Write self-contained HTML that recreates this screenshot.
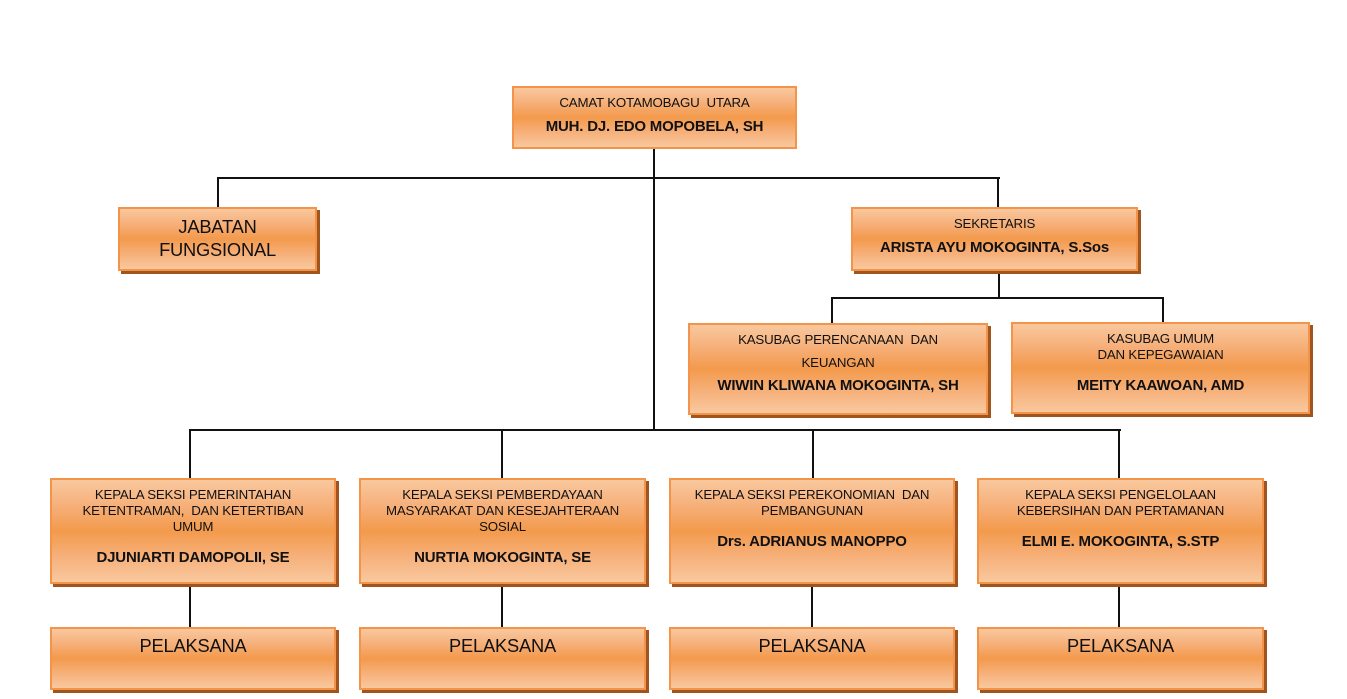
<!DOCTYPE html>
<html><head><meta charset="utf-8"><style>
body{margin:0;width:1347px;height:699px;background:#fff;position:relative;overflow:hidden;font-family:"Liberation Sans",Arial,sans-serif;color:#111}
.b{position:absolute;box-sizing:border-box;border:2px solid #f4934a;background:linear-gradient(to bottom,#f9c89e 0%,#f6b07a 25%,#f39a4c 50%,#f6b07a 75%,#f9c89e 100%);box-shadow:3px 3px 0 #a0541e}
.n{box-shadow:none}
.t{position:absolute;left:0;right:0;text-align:center;white-space:nowrap;font-size:13.3px;letter-spacing:-0.2px}
.k{font-weight:bold;font-size:15px}
.g{font-size:18.3px}
.h{position:absolute;background:#111;height:2px}
.v{position:absolute;background:#111;width:2px}
</style></head><body>
<div class="v" style="left:653px;top:148px;height:283px"></div>
<div class="h" style="left:217px;top:177px;width:783px"></div>
<div class="v" style="left:217px;top:177px;height:31px"></div>
<div class="v" style="left:997px;top:177px;height:31px"></div>
<div class="v" style="left:998px;top:271px;height:28px"></div>
<div class="h" style="left:831px;top:297px;width:333px"></div>
<div class="v" style="left:831px;top:297px;height:27px"></div>
<div class="v" style="left:1162px;top:297px;height:27px"></div>
<div class="h" style="left:189px;top:429px;width:932px"></div>
<div class="v" style="left:189px;top:429px;height:50px"></div>
<div class="v" style="left:501px;top:429px;height:50px"></div>
<div class="v" style="left:812px;top:429px;height:50px"></div>
<div class="v" style="left:1118px;top:429px;height:50px"></div>
<div class="v" style="left:189px;top:584px;height:44px"></div>
<div class="v" style="left:501px;top:584px;height:44px"></div>
<div class="v" style="left:811px;top:584px;height:44px"></div>
<div class="v" style="left:1118px;top:584px;height:44px"></div>

<div class="b n" style="left:512px;top:86px;width:285px;height:63px">
<div class="t" style="top:7px">CAMAT KOTAMOBAGU&nbsp; UTARA</div>
<div class="t k" style="top:30px">MUH. DJ. EDO MOPOBELA, SH</div></div>

<div class="b" style="left:118px;top:207px;width:199px;height:64px">
<div class="t g" style="top:7px">JABATAN</div>
<div class="t g" style="top:30px">FUNGSIONAL</div></div>

<div class="b" style="left:851px;top:207px;width:287px;height:64px">
<div class="t" style="top:7px">SEKRETARIS</div>
<div class="t k" style="top:30px">ARISTA AYU MOKOGINTA, S.Sos</div></div>

<div class="b" style="left:688px;top:323px;width:300px;height:92px">
<div class="t" style="top:7px">KASUBAG PERENCANAAN&nbsp; DAN</div>
<div class="t" style="top:30px">KEUANGAN</div>
<div class="t k" style="top:52px">WIWIN KLIWANA MOKOGINTA, SH</div></div>

<div class="b" style="left:1011px;top:322px;width:299px;height:92px">
<div class="t" style="top:7px">KASUBAG UMUM</div>
<div class="t" style="top:23px">DAN KEPEGAWAIAN</div>
<div class="t k" style="top:53px">MEITY KAAWOAN, AMD</div></div>

<div class="b" style="left:50px;top:478px;width:286px;height:106px">
<div class="t" style="top:7px">KEPALA SEKSI PEMERINTAHAN</div>
<div class="t" style="top:23px">KETENTRAMAN,&nbsp; DAN KETERTIBAN</div>
<div class="t" style="top:39px">UMUM</div>
<div class="t k" style="top:69px">DJUNIARTI DAMOPOLII, SE</div></div>

<div class="b" style="left:359px;top:478px;width:287px;height:106px">
<div class="t" style="top:7px">KEPALA SEKSI PEMBERDAYAAN</div>
<div class="t" style="top:23px">MASYARAKAT DAN KESEJAHTERAAN</div>
<div class="t" style="top:39px">SOSIAL</div>
<div class="t k" style="top:69px">NURTIA MOKOGINTA, SE</div></div>

<div class="b" style="left:669px;top:478px;width:286px;height:106px">
<div class="t" style="top:7px">KEPALA SEKSI PEREKONOMIAN&nbsp; DAN</div>
<div class="t" style="top:23px">PEMBANGUNAN</div>
<div class="t k" style="top:53px">Drs. ADRIANUS MANOPPO</div></div>

<div class="b" style="left:977px;top:478px;width:287px;height:106px">
<div class="t" style="top:7px">KEPALA SEKSI PENGELOLAAN</div>
<div class="t" style="top:23px">KEBERSIHAN DAN PERTAMANAN</div>
<div class="t k" style="top:53px">ELMI E. MOKOGINTA, S.STP</div></div>

<div class="b" style="left:50px;top:627px;width:286px;height:63px"><div class="t g" style="top:6px">PELAKSANA</div></div>
<div class="b" style="left:359px;top:627px;width:287px;height:63px"><div class="t g" style="top:6px">PELAKSANA</div></div>
<div class="b" style="left:669px;top:627px;width:286px;height:63px"><div class="t g" style="top:6px">PELAKSANA</div></div>
<div class="b" style="left:977px;top:627px;width:287px;height:63px"><div class="t g" style="top:6px">PELAKSANA</div></div>
</body></html>
